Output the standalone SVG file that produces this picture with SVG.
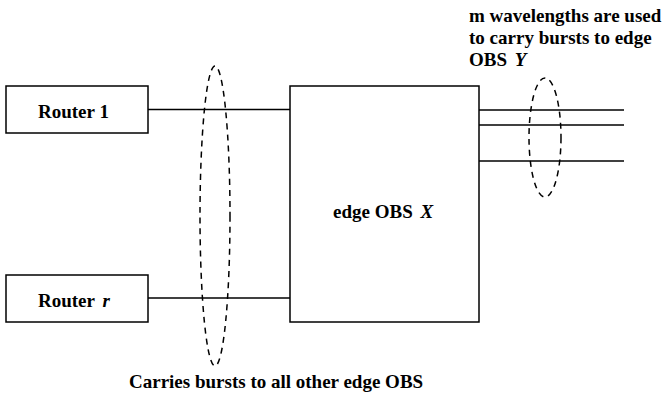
<svg xmlns="http://www.w3.org/2000/svg" width="663" height="398" viewBox="0 0 663 398">
<style>
.box{fill:#fff;stroke:#000;stroke-width:1.5}
.ln{stroke:#000;stroke-width:1.5;fill:none}
.el{fill:none;stroke:#000;stroke-width:1.5;stroke-dasharray:6,5}
text{font-family:"Liberation Serif","Times New Roman",serif;font-weight:bold;font-size:19px;fill:#000}
.i{font-style:italic}
</style>
<rect width="663" height="398" fill="#fff"/>
<g id="connectors">
<line class="ln" x1="148" y1="109.5" x2="290" y2="109.5"/>
<line class="ln" x1="148" y1="298" x2="290" y2="298"/>
<line class="ln" x1="479" y1="110" x2="624" y2="110"/>
<line class="ln" x1="479" y1="125" x2="624" y2="125"/>
<line class="ln" x1="479" y1="161" x2="624" y2="161"/>
</g>
<g id="router1">
<rect class="box" x="6" y="86" width="142" height="47"/>
<text x="38" y="118">Router 1</text>
</g>
<g id="routerr">
<rect class="box" x="6" y="275" width="142" height="47"/>
<text x="38" y="307">Router <tspan class="i" dx="3">r</tspan></text>
</g>
<g id="edgeX">
<rect class="box" x="290" y="86" width="189" height="236"/>
<text x="333" y="218">edge OBS <tspan class="i" dx="3">X</tspan></text>
</g>
<g id="bundle-left">
<ellipse class="el" cx="215" cy="216" rx="15" ry="150"/>
<text x="129" y="388">Carries bursts to all other edge OBS</text>
</g>
<g id="bundle-right">
<ellipse class="el" cx="545" cy="137.5" rx="16" ry="59.5"/>
<text x="469" y="22">m wavelengths are used</text>
<text x="469" y="44">to carry bursts to edge</text>
<text x="469" y="66">OBS <tspan class="i" dx="3">Y</tspan></text>
</g>
</svg>
